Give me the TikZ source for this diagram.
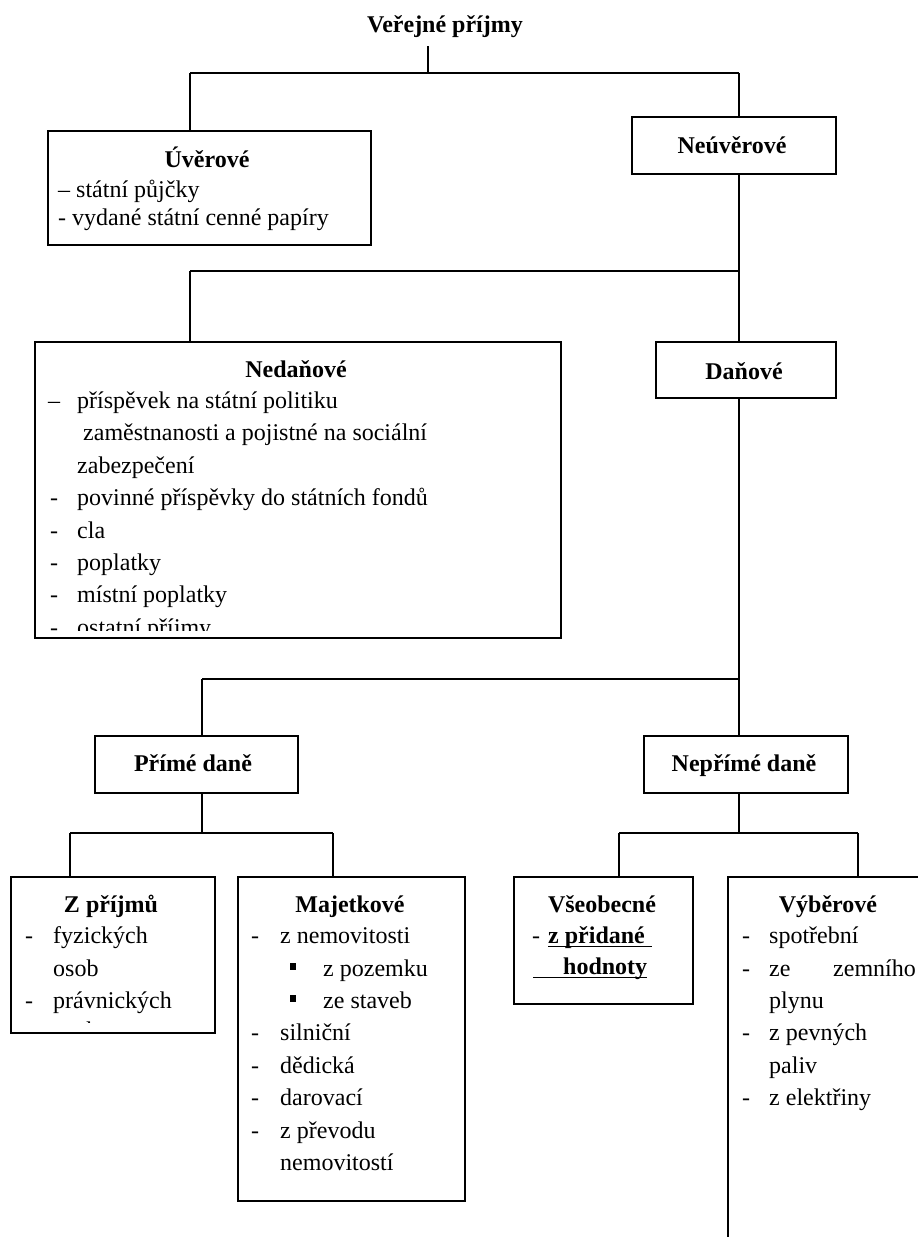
\documentclass[tikz,border=0pt]{standalone}
\usepackage{fontspec}
\setmainfont{Liberation Serif}
\begin{document}
\begin{tikzpicture}[x=1pt,y=-1pt,
  box/.style={draw, line width=2pt, rectangle, inner sep=0pt, anchor=north west},
  conn/.style={line width=1.6pt},
  hd/.style={font=\fontsize{24}{30}\selectfont\bfseries, anchor=base, inner sep=0pt},
  tx/.style={font=\fontsize{24}{30}\selectfont, anchor=base west, inner sep=0pt},
  txb/.style={font=\fontsize{24}{30}\selectfont\bfseries, anchor=base west, inner sep=0pt},
  uline/.style={line width=1.3pt}]
\useasboundingbox (0,0) rectangle (918,1237);
\clip (0,0) rectangle (918,1237);
\fill[white] (0,0) rectangle (918,1237);

% ---------- boxes ----------
\node[box, minimum width=323pt, minimum height=114pt] (uver) at (47,130) {};
\node[box, minimum width=204pt, minimum height=57pt] (neuv) at (631,116) {};
\node[box, minimum width=526pt, minimum height=296pt] (nedan) at (34,341) {};
\node[box, minimum width=180pt, minimum height=56pt] (dan) at (655,341) {};
\node[box, minimum width=203pt, minimum height=57pt] (prime) at (94,735) {};
\node[box, minimum width=204pt, minimum height=57pt] (neprime) at (643,735) {};
\node[box, minimum width=204pt, minimum height=156pt] (zprijmu) at (10,876) {};
\node[box, minimum width=227pt, minimum height=324pt] (majet) at (237,876) {};
\node[box, minimum width=179pt, minimum height=127pt] (vseob) at (513,876) {};
\node[box, minimum width=273pt, minimum height=524pt] (vyber) at (727,876) {};

% ---------- headings ----------
\node[hd] (title) at (445,32) {Veřejné příjmy};
\node[hd] (hUv) at (207,167) {Úvěrové};
\node[hd] (hNeuv) at (732,153) {Neúvěrové};
\node[hd] (hNed) at (296,377) {Nedaňové};
\node[hd] (hDan) at (744,379) {Daňové};
\node[hd] (hPr) at (193,771) {Přímé daně};
\node[hd] (hNpr) at (744,771) {Nepřímé daně};
\node[hd] (hZp) at (111,912) {Z příjmů};
\node[hd] (hMaj) at (350,912) {Majetkové};
\node[hd] (hVs) at (602,912) {Všeobecné};
\node[hd] (hVy) at (828,912) {Výběrové};

% ---------- connectors ----------
\coordinate (b1) at (428,73);
\coordinate (b1l) at (190,73);
\coordinate (b1r) at (739,73);
\draw[conn, shorten <=9pt] (title.south -| b1) -- (b1);
\draw[conn] (b1l) -- (b1r);
\draw[conn] (b1l) -- (b1l |- uver.north);
\draw[conn] (b1r) -- (b1r |- neuv.north);

\coordinate (b2l) at (190,271);
\coordinate (b2r) at (739,271);
\draw[conn] (neuv.south -| b2r) -- (dan.north -| b2r);
\draw[conn] (b2l) -- (b2r);
\draw[conn] (b2l) -- (b2l |- nedan.north);

\coordinate (b3l) at (202,679);
\coordinate (b3r) at (739,679);
\draw[conn] (dan.south -| b3r) -- (neprime.north -| b3r);
\draw[conn] (b3l) -- (b3r);
\draw[conn] (b3l) -- (b3l |- prime.north);

\coordinate (b4) at (202,833);
\coordinate (b4l) at (70,833);
\coordinate (b4r) at (333,833);
\draw[conn] (prime.south -| b4) -- (b4);
\draw[conn] (b4l) -- (b4r);
\draw[conn] (b4l) -- (b4l |- zprijmu.north);
\draw[conn] (b4r) -- (b4r |- majet.north);

\coordinate (b5) at (739,833);
\coordinate (b5l) at (619,833);
\coordinate (b5r) at (858,833);
\draw[conn] (neprime.south -| b5) -- (b5);
\draw[conn] (b5l) -- (b5r);
\draw[conn] (b5l) -- (b5l |- vseob.north);
\draw[conn] (b5r) -- (b5r |- vyber.north);

% ---------- Úvěrové ----------
\node[tx] (u1) at (58,197) {– státní půjčky};
\node[tx] (u2) at (58,225) {- vydané státní cenné papíry};

% ---------- Nedaňové ----------
\node[tx] (n1d) at (48,408) {–};
\node[tx] (n1) at (77,408) {příspěvek na státní politiku};
\node[tx] (n2) at (83,440) {zaměstnanosti a pojistné na sociální};
\node[tx] (n3) at (77,473) {zabezpečení};
\node[tx] (n4d) at (50,505) {-};
\node[tx] (n4) at (77,505) {povinné příspěvky do státních fondů};
\node[tx] (n5d) at (50,538) {-};
\node[tx] (n5) at (77,538) {cla};
\node[tx] (n6d) at (50,570) {-};
\node[tx] (n6) at (77,570) {poplatky};
\node[tx] (n7d) at (50,602) {-};
\node[tx] (n7) at (77,602) {místní poplatky};
\begin{scope}
  \clip (34,341) rectangle (560,630);
  \node[tx] (n8d) at (50,635) {-};
  \node[tx] (n8) at (77,635) {ostatní příjmy};
\end{scope}

% ---------- Z příjmů ----------
\node[tx] (z1d) at (25,943) {-};
\node[tx] (z1) at (53,943) {fyzických};
\node[tx] (z2) at (53,976) {osob};
\node[tx] (z3d) at (25,1008) {-};
\node[tx] (z3) at (53,1008) {právnických};
\begin{scope}
  \clip (10,876) rectangle (214,1022);
  \node[tx] (z4) at (53,1038) {osob};
\end{scope}

% ---------- Majetkové ----------
\node[tx] (m1d) at (251,943) {-};
\node[tx] (m1) at (280,943) {z nemovitosti};
\fill (290,963) rectangle (296,970);
\node[tx] (m2) at (323,976) {z pozemku};
\fill (290,995) rectangle (296,1002);
\node[tx] (m3) at (323,1008) {ze staveb};
\node[tx] (m4d) at (251,1040) {-};
\node[tx] (m4) at (280,1040) {silniční};
\node[tx] (m5d) at (251,1073) {-};
\node[tx] (m5) at (280,1073) {dědická};
\node[tx] (m6d) at (251,1105) {-};
\node[tx] (m6) at (280,1105) {darovací};
\node[tx] (m7d) at (251,1138) {-};
\node[tx] (m7) at (280,1138) {z převodu};
\node[tx] (m8) at (280,1170) {nemovitostí};

% ---------- Všeobecné ----------
\node[tx] (v1d) at (532,943) {-};
\node[txb] (v1) at (548,943) {z přidané};
\node[txb] (v2) at (563,974) {hodnoty};
\draw[uline] (548,946.5) -- (652,946.5);
\draw[uline] (533,977.5) -- (647,977.5);

% ---------- Výběrové ----------
\node[tx] (y1d) at (742,943) {-};
\node[tx] (y1) at (769,943) {spotřební};
\node[tx] (y2d) at (742,976) {-};
\node[tx] (y2) at (769,976) {ze};
\node[tx] (y2b) at (833,976) {zemního};
\node[tx] (y3) at (769,1008) {plynu};
\node[tx] (y4d) at (742,1040) {-};
\node[tx] (y4) at (769,1040) {z pevných};
\node[tx] (y5) at (769,1073) {paliv};
\node[tx] (y6d) at (742,1105) {-};
\node[tx] (y6) at (769,1105) {z elektřiny};
\end{tikzpicture}
\end{document}
